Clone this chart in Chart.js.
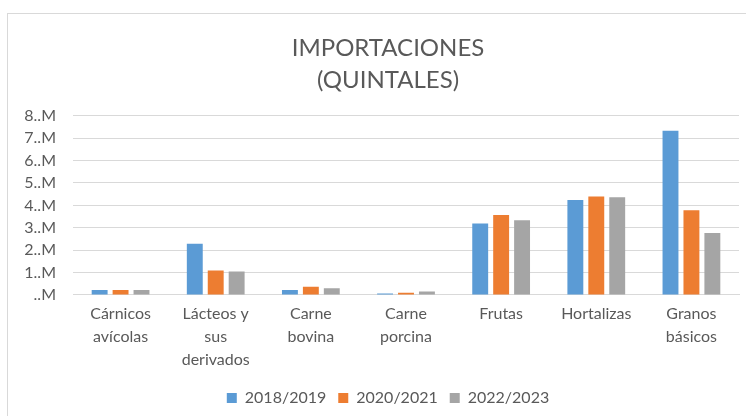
<!DOCTYPE html>
<html>
<head>
<meta charset="utf-8">
<script src="https://cdn.jsdelivr.net/npm/chart.js@4"></script>
<style>
  html, body { margin: 0; padding: 0; background: #fff; overflow: hidden; width: 746px; height: 416px; }
  #frame { position: absolute; left: 7px; top: 13px; width: 800px; height: 450px; border: 1px solid #d9d9d9; }
  #wrap { position: absolute; left: 0; top: 0; width: 760px; height: 416px; }
</style>
</head>
<body>
<div id="frame"></div>
<div id="wrap"><canvas id="chart" width="760" height="416"></canvas></div>
<script>
// categorias y valores (millones de quintales)
const categorias = [
  ["Cárnicos", "avícolas"],
  ["Lácteos y", "sus", "derivados"],
  ["Carne", "bovina"],
  ["Carne", "porcina"],
  "Frutas",
  "Hortalizas",
  ["Granos", "básicos"]
];
const periodos = ["2018/2019", "2020/2021", "2022/2023"];
const serie2018 = [0.22, 2.29, 0.22, 0.06, 3.19, 4.24, 7.33];
const serie2020 = [0.22, 1.09, 0.36, 0.10, 3.57, 4.40, 3.78];
const serie2022 = [0.22, 1.04, 0.30, 0.15, 3.33, 4.36, 2.76];
const colores = ["#5B9BD5", "#ED7D31", "#A5A5A5"];

const gris = "#595959";
const fuente = "Lato, 'Open Sans', sans-serif";

const datasets = [serie2018, serie2020, serie2022].map((d, i) => ({
  label: periodos[i],
  data: d,
  backgroundColor: colores[i],
  categoryPercentage: 0.66,
  barPercentage: 0.76
}));

new Chart(document.getElementById("chart"), {
  type: "bar",
  data: { labels: categorias, datasets },
  options: {
    responsive: false,
    animation: false,
    layout: { padding: { left: 18, right: 2, top: 0, bottom: 0 } },
    plugins: {
      title: {
        display: true,
        text: ["IMPORTACIONES", "(QUINTALES)"],
        color: gris,
        font: { family: fuente, size: 24, weight: "normal", lineHeight: 1.33 },
        padding: { top: 32, bottom: 20 }
      },
      legend: {
        position: "bottom",
        labels: {
          color: gris,
          font: { family: fuente, size: 16 },
          boxWidth: 10,
          boxHeight: 10,
          padding: 12
        }
      },
      tooltip: { enabled: false }
    },
    scales: {
      x: {
        grid: { display: false, drawTicks: false },
        border: { color: "#d9d9d9" },
        ticks: {
          color: gris,
          font: { family: fuente, size: 16, lineHeight: 1.44 },
          padding: 7,
          maxRotation: 0,
          autoSkip: false
        }
      },
      y: {
        min: 0,
        max: 8,
        afterFit: s => { s.width = 55; },
        grid: { color: "#d9d9d9", drawTicks: false },
        border: { display: false },
        ticks: {
          stepSize: 1,
          autoSkip: false,
          color: gris,
          font: { family: fuente, size: 16 },
          padding: 17,
          callback: v => (v === 0 ? "" : v) + "..M"
        }
      },
      // eje vacio a la derecha, solo para dejar el margen
      margen: {
        position: "right",
        min: 0,
        max: 8,
        afterFit: s => { s.width = 19; },
        grid: { display: false, drawTicks: false },
        border: { display: false },
        ticks: { display: false }
      }
    }
  }
});
</script>
</body>
</html>
